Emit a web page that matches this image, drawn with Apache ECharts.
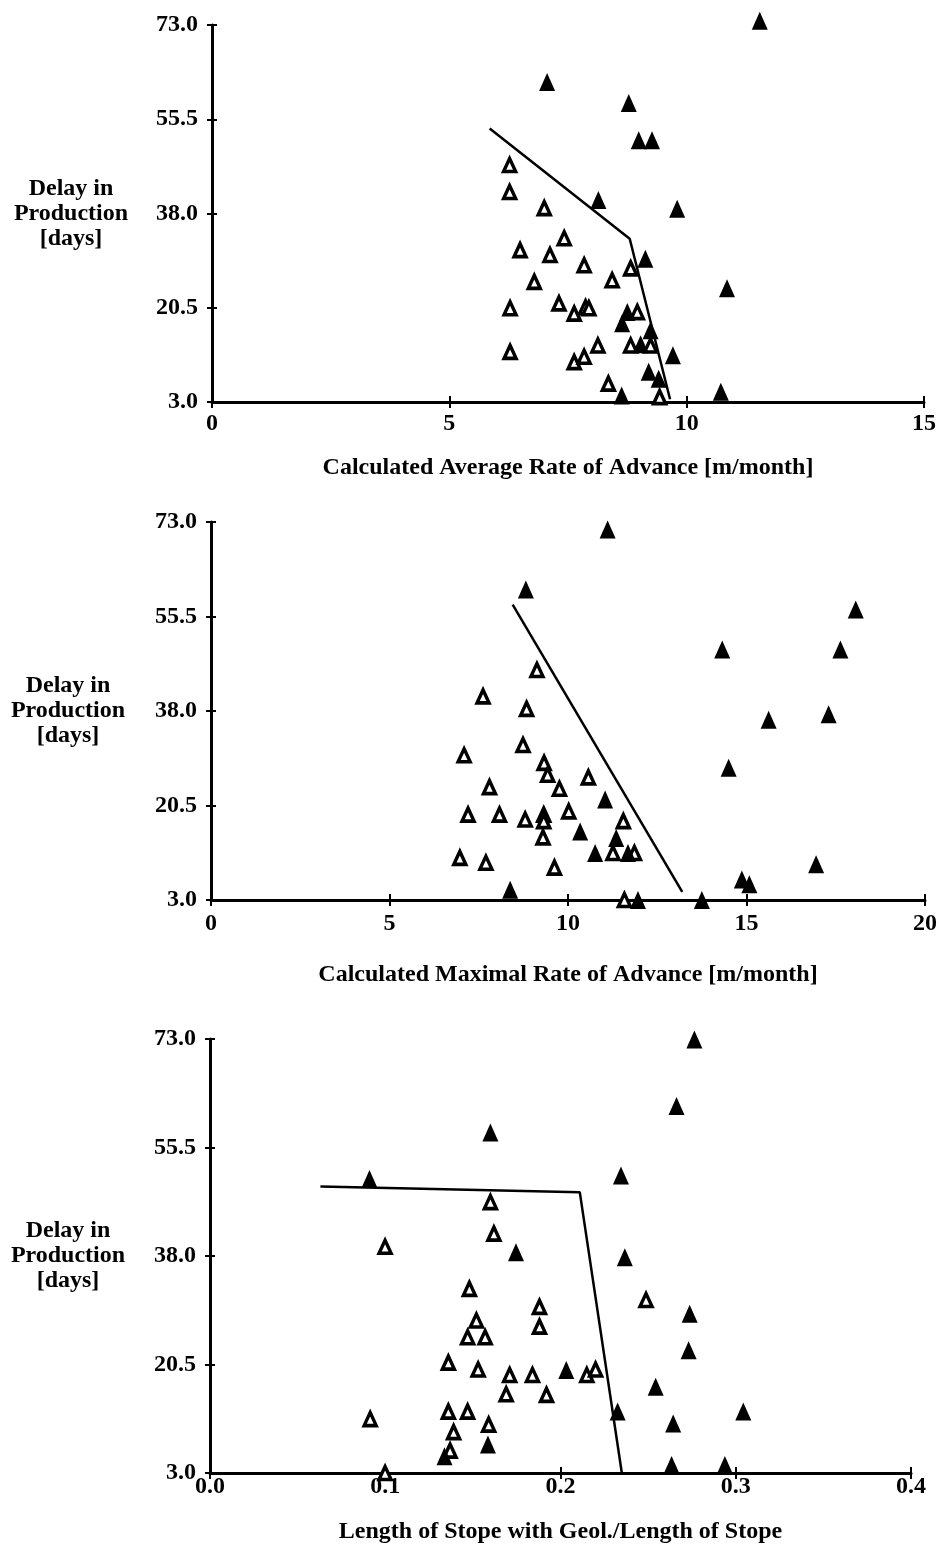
<!DOCTYPE html>
<html>
<head>
<meta charset="utf-8">
<script src="https://cdn.jsdelivr.net/npm/echarts@6/dist/echarts.min.js"></script>
<style>
html,body{margin:0;padding:0;background:#fff;}
#chart{width:939px;height:1555px;}
</style>
</head>
<body>
<div id="chart"></div>
<script>
// ---------- Data ----------
const yTicks = [3.0, 20.5, 38.0, 55.5, 73.0];
const yTitle = 'Delay in\nProduction\n[days]';

// Plot 1: Calculated Average Rate of Advance
const avgTitle = 'Calculated Average Rate of Advance [m/month]';
const avgTicks = [0, 5, 10, 15];
const avgFilledX = [11.54, 7.06, 8.78, 8.99, 9.27, 8.14, 9.80, 9.13, 10.85, 8.75, 8.64, 9.24, 9.03, 9.71, 9.20, 9.41, 8.63, 10.72];
const avgFilledY = [73.8, 62.4, 58.5, 51.6, 51.6, 40.5, 38.9, 29.6, 24.1, 19.7, 17.6, 16.3, 13.7, 11.7, 8.6, 7.3, 4.2, 4.9];
const avgHollowX = [6.27, 6.27, 7.00, 7.42, 6.49, 7.12, 7.84, 8.82, 6.79, 8.43, 6.28, 7.31, 7.63, 7.87, 7.94, 8.96, 6.28, 7.63, 7.84, 8.13, 8.82, 9.24, 8.35, 9.43];
const avgHollowY = [47.0, 42.0, 39.0, 33.4, 31.2, 30.3, 28.4, 27.8, 25.3, 25.6, 20.4, 21.3, 19.4, 20.6, 20.4, 19.7, 12.3, 10.4, 11.4, 13.5, 13.5, 13.5, 6.4, 3.9];
const avgLineX = [5.85, 8.80, 9.65];
const avgLineY = [53.8, 33.3, 3.5];

// Plot 2: Calculated Maximal Rate of Advance
const maxTitle = 'Calculated Maximal Rate of Advance [m/month]';
const maxTicks = [0, 5, 10, 15, 20];
const maxFilledX = [11.11, 8.82, 18.06, 14.32, 17.63, 15.62, 17.30, 14.50, 16.95, 14.87, 15.08, 13.75, 11.04, 10.34, 11.35, 10.76, 11.68, 8.38, 11.96];
const maxFilledY = [71.6, 60.5, 56.8, 49.4, 49.4, 36.4, 37.4, 27.5, 9.6, 6.8, 5.9, 3.0, 21.6, 15.7, 14.5, 11.7, 11.7, 4.9, 3.0];
const maxHollowX = [9.13, 7.62, 8.84, 8.74, 7.09, 9.33, 9.43, 10.57, 7.80, 9.76, 7.20, 8.08, 8.80, 9.32, 9.32, 10.02, 11.55, 9.30, 11.26, 11.86, 6.97, 7.70, 9.62, 11.58];
const maxHollowY = [45.6, 40.7, 38.4, 31.7, 29.8, 28.4, 26.2, 25.7, 23.9, 23.6, 18.8, 18.8, 17.9, 18.8, 17.6, 19.4, 17.6, 14.6, 11.7, 11.7, 10.8, 9.9, 9.0, 3.0];
const maxLineX = [8.45, 13.2];
const maxLineY = [57.7, 4.5];

// Plot 3: Length of Stope with Geol./Length of Stope
const geoTitle = 'Length of Stope with Geol./Length of Stope';
const geoTicks = [0.0, 0.1, 0.2, 0.3, 0.4];
const geoFilledX = [0.2764, 0.2662, 0.160, 0.091, 0.2345, 0.2367, 0.1746, 0.2737, 0.2731, 0.2543, 0.2033, 0.2326, 0.3043, 0.2643, 0.1586, 0.1338, 0.2634, 0.2938];
const geoFilledY = [72.9, 62.2, 57.9, 50.4, 51.0, 37.8, 38.6, 28.7, 22.8, 16.9, 19.6, 12.9, 12.9, 11.0, 7.6, 5.7, 4.3, 4.3];
const geoHollowX = [0.160, 0.162, 0.0999, 0.148, 0.188, 0.188, 0.152, 0.147, 0.157, 0.136, 0.153, 0.171, 0.184, 0.169, 0.192, 0.215, 0.220, 0.0914, 0.136, 0.147, 0.159, 0.139, 0.137, 0.0999, 0.2488];
const geoHollowY = [46.7, 41.6, 39.5, 32.7, 29.8, 26.6, 27.6, 24.9, 24.9, 20.8, 19.7, 18.8, 18.8, 15.7, 15.6, 18.8, 19.7, 11.7, 12.9, 12.9, 10.8, 9.6, 6.6, 3.0, 30.9];
const geoLineX = [0.063, 0.211, 0.235];
const geoLineY = [49.2, 48.3, 3.0];

// ---------- Chart ----------
const FONT = '"Liberation Serif", "DejaVu Serif", serif';
const zip = (xs, ys) => xs.map((x, i) => [x, ys[i]]);

const panels = [
  {grid:{left:212, top:25, width:712, height:377}, ticks:avgTicks, dec:0, title:avgTitle,
   xGap:54, xMargin:10, yGap:141, yPad:22,
   fx:avgFilledX, fy:avgFilledY, hx:avgHollowX, hy:avgHollowY, lx:avgLineX, ly:avgLineY},
  {grid:{left:211, top:522, width:714, height:378}, ticks:maxTicks, dec:0, title:maxTitle,
   xGap:63, xMargin:12, yGap:143, yPad:28,
   fx:maxFilledX, fy:maxFilledY, hx:maxHollowX, hy:maxHollowY, lx:maxLineX, ly:maxLineY},
  {grid:{left:210, top:1039, width:701, height:434}, ticks:geoTicks, dec:1, title:geoTitle,
   xGap:47, xMargin:2, yGap:142, yPad:36,
   fx:geoFilledX, fy:geoFilledY, hx:geoHollowX, hy:geoHollowY, lx:geoLineX, ly:geoLineY}
];

const textStyle = {fontFamily: FONT, fontWeight: 'bold', color: '#000', fontSize: 24};
const grids = [], xAxes = [], yAxes = [], series = [];

panels.forEach((p, g) => {
  grids.push(Object.assign({outerBoundsMode: 'none', containLabel: false}, p.grid));
  const xmin = p.ticks[0], xmax = p.ticks[p.ticks.length - 1];
  const xint = p.ticks[1] - p.ticks[0];
  const ymin = yTicks[0], ymax = yTicks[yTicks.length - 1], yint = yTicks[1] - yTicks[0];
  xAxes.push({
    type: 'value', gridIndex: g, position: 'bottom', min: xmin, max: xmax, interval: xint,
    axisLine: {show: true, onZero: false, lineStyle: {color: '#000', width: 3}},
    axisTick: {show: true, length: 6, lineStyle: {color: '#000', width: 2}},
    axisLabel: Object.assign({margin: p.xMargin, formatter: v => v.toFixed(p.dec)}, textStyle),
    splitLine: {show: false},
    name: p.title, nameLocation: 'middle', nameGap: p.xGap,
    nameTextStyle: Object.assign({}, textStyle)
  });
  xAxes.push({
    type: 'value', gridIndex: g, position: 'bottom', min: xmin, max: xmax, interval: xint,
    axisLine: {show: false}, axisLabel: {show: false}, splitLine: {show: false},
    axisTick: {show: true, inside: true, length: 6, lineStyle: {color: '#000', width: 2}}
  });
  yAxes.push({
    type: 'value', gridIndex: g, position: 'left', min: ymin, max: ymax, interval: yint,
    axisLine: {show: true, onZero: false, lineStyle: {color: '#000', width: 3}},
    axisTick: {show: true, length: 5, lineStyle: {color: '#000', width: 2}},
    axisLabel: Object.assign({margin: 14, formatter: v => v.toFixed(1)}, textStyle),
    splitLine: {show: false},
    name: yTitle, nameLocation: 'middle', nameRotate: 0, nameGap: p.yGap,
    nameTextStyle: Object.assign({align: 'center', verticalAlign: 'middle', lineHeight: 25, padding: [0, 0, p.yPad, 0]}, textStyle)
  });
  yAxes.push({
    type: 'value', gridIndex: g, position: 'left', min: ymin, max: ymax, interval: yint,
    axisLine: {show: false}, axisLabel: {show: false}, splitLine: {show: false},
    axisTick: {show: true, inside: true, length: 5, lineStyle: {color: '#000', width: 2}}
  });
  const xi = g * 2, yi = g * 2;
  series.push({
    type: 'line', xAxisIndex: xi, yAxisIndex: yi, data: zip(p.lx, p.ly),
    showSymbol: false, symbol: 'none', lineStyle: {color: '#000', width: 2.5}, z: 1, silent: true, animation: false
  });
  series.push({
    type: 'scatter', xAxisIndex: xi, yAxisIndex: yi, data: zip(p.hx, p.hy),
    symbol: 'triangle', symbolSize: [12, 13], clip: false,
    itemStyle: {color: '#fff', borderColor: '#000', borderWidth: 3.5, opacity: 1}, z: 3, animation: false
  });
  series.push({
    type: 'scatter', xAxisIndex: xi, yAxisIndex: yi, data: zip(p.fx, p.fy),
    symbol: 'triangle', symbolSize: [16, 18], clip: false,
    itemStyle: {color: '#000', opacity: 1}, z: 4, animation: false
  });
});

const chart = echarts.init(document.getElementById('chart'), null, {renderer: 'canvas'});
chart.setOption({
  backgroundColor: '#fff',
  animation: false,
  grid: grids, xAxis: xAxes, yAxis: yAxes, series: series
});
</script>
</body>
</html>
